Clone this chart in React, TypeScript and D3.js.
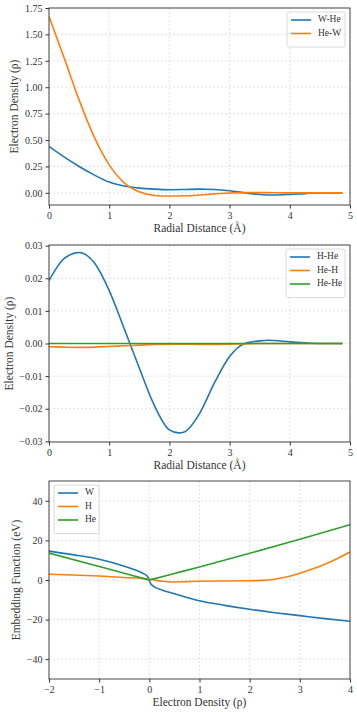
import React, { useEffect, useRef } from "react";
import * as d3 from "d3";

// panel 1: radial electron density for W-He / He-W
const r1 = [0, 0.25, 0.5, 0.75, 1, 1.25, 1.5, 1.75, 2, 2.25, 2.5, 2.75, 3, 3.25, 3.5, 3.75, 4, 4.25, 4.5, 4.875];
const wHe = [0.44, 0.34, 0.25, 0.17, 0.102, 0.065, 0.045, 0.035, 0.03, 0.032, 0.035, 0.032, 0.02, 0.0, -0.015, -0.02, -0.015, -0.007, 0.0, 0.0];
const heW = [1.67, 1.28, 0.88, 0.53, 0.265, 0.095, 0.01, -0.025, -0.03, -0.028, -0.02, -0.01, -0.002, 0.002, 0.002, 0.001, 0.0, 0.0, 0.0, 0.0];

// panel 2: H-He, He-H, He-He
const r2 = [0, 0.25, 0.5, 0.75, 1, 1.25, 1.5, 1.75, 2, 2.15, 2.25, 2.5, 2.75, 3, 3.25, 3.5, 3.65, 3.75, 4, 4.25, 4.5, 4.875];
const hHe = [0.0193, 0.026, 0.0279, 0.0248, 0.0162, 0.0045, -0.0075, -0.0190, -0.0265, -0.0274, -0.0271, -0.0215, -0.0120, -0.0040, 0.0, 0.0008, 0.001, 0.0009, 0.0005, 0.0002, 0.0, 0.0];
const heH = [-0.001, -0.0011, -0.0012, -0.0011, -0.0009, -0.0007, -0.0005, -0.0003, -0.0002, -0.0002, -0.0002, -0.0003, -0.0003, -0.0002, -0.0001, 0.0, 0.0, 0.0, 0.0, 0.0, 0.0, 0.0];
const heHe = r2.map(() => 0);

// panel 3: embedding functions
const rhoW = [-2, -1.5, -1, -0.5, -0.25, -0.1, -0.03, 0, 0.02, 0.1, 0.25, 0.5, 0.75, 1, 1.5, 2, 2.5, 3, 3.5, 4];
const fW = [14.6, 12.7, 10.5, 7.0, 4.8, 3.0, 1.6, 0, -1.6, -3.5, -5.0, -6.9, -8.8, -10.5, -12.8, -14.8, -16.5, -18.0, -19.5, -20.8];
const rhoH = [-2, -1.5, -1, -0.5, 0, 0.25, 0.5, 0.75, 1, 1.5, 2, 2.25, 2.5, 2.75, 3, 3.25, 3.5, 3.75, 4];
const fH = [2.9, 2.5, 2.0, 1.3, 0.4, -0.6, -1.0, -0.8, -0.6, -0.5, -0.4, -0.2, 0.4, 1.6, 3.4, 5.5, 8.0, 10.9, 14.1];
const rhoHe = [-2, -1, -0.5, -0.03, 0, 0.03, 0.5, 1, 2, 3, 4];
const fHe = [13.6, 6.8, 3.4, 0.2, 0, 0.2, 3.3, 6.6, 13.5, 20.6, 27.9];

const colors = ["#1f77b4", "#ff7f0e", "#2ca02c"];
const font = "'Liberation Serif', 'DejaVu Serif', serif";

const panels = [
  {
    xDomain: [0, 5], yDomain: [-0.115, 1.75], top: 8, bottom: 205,
    xTicks: [0, 1, 2, 3, 4, 5], yTicks: d3.range(0, 1.76, 0.25), yFmt: d3.format(".2f"),
    xLabel: "Radial Distance (Å)", yLabel: "Electron Density (ρ)", yLabelX: 15,
    series: [{ name: "W-He", x: r1, y: wHe }, { name: "He-W", x: r1, y: heW }],
    legend: { x: 287, y: 12, w: 58 },
  },
  {
    xDomain: [0, 5], yDomain: [-0.0302, 0.0302], top: 245, bottom: 442,
    xTicks: [0, 1, 2, 3, 4, 5], yTicks: [-0.03, -0.02, -0.01, 0, 0.01, 0.02, 0.03], yFmt: d3.format(".2f"),
    xLabel: "Radial Distance (Å)", yLabel: "Electron Density (ρ)", yLabelX: 10,
    series: [{ name: "H-He", x: r2, y: hHe }, { name: "He-H", x: r2, y: heH }, { name: "He-He", x: r2, y: heHe }],
    legend: { x: 286, y: 249, w: 59 },
  },
  {
    xDomain: [-2, 4], yDomain: [-50, 50], top: 481, bottom: 679,
    xTicks: [-2, -1, 0, 1, 2, 3, 4], yTicks: [-40, -20, 0, 20, 40], yFmt: d3.format("d"),
    xLabel: "Electron Density (ρ)", yLabel: "Embedding Function (eV)", yLabelX: 17,
    series: [{ name: "W", x: rhoW, y: fW }, { name: "H", x: rhoH, y: fH }, { name: "He", x: rhoHe, y: fHe }],
    legend: { x: 54, y: 485, w: 45 },
  },
];

const App = () => {
  const svgRef = useRef<SVGSVGElement>(null);

  useEffect(() => {
    const svg = d3.select(svgRef.current);
    svg.selectAll("*").remove();
    const left = 49;
    const right = 350;

    panels.forEach((p) => {
      const x = d3.scaleLinear().domain(p.xDomain).range([left, right]);
      const y = d3.scaleLinear().domain(p.yDomain).range([p.bottom, p.top]);
      const g = svg.append("g");

      // grid
      g.selectAll(".gx").data(p.xTicks).join("line")
        .attr("x1", (d) => x(d)).attr("x2", (d) => x(d))
        .attr("y1", p.top).attr("y2", p.bottom)
        .attr("stroke", "#cccccc").attr("stroke-width", 0.6).attr("stroke-dasharray", "2,2");
      g.selectAll(".gy").data(p.yTicks).join("line")
        .attr("x1", left).attr("x2", right)
        .attr("y1", (d) => y(d)).attr("y2", (d) => y(d))
        .attr("stroke", "#cccccc").attr("stroke-width", 0.6).attr("stroke-dasharray", "2,2");

      // curves
      const clipId = `clip${p.top}`;
      svg.append("clipPath").attr("id", clipId).append("rect")
        .attr("x", left).attr("y", p.top).attr("width", right - left).attr("height", p.bottom - p.top);
      p.series.forEach((s, i) => {
        const line = d3.line<number>()
          .x((d, k) => x(s.x[k]))
          .y((d) => y(d))
          .curve(d3.curveMonotoneX);
        g.append("path").datum(s.y)
          .attr("clip-path", `url(#${clipId})`)
          .attr("d", line)
          .attr("fill", "none")
          .attr("stroke", colors[i])
          .attr("stroke-width", 1.6);
      });

      // axes
      const xAxis = g.append("g").attr("transform", `translate(0,${p.bottom})`)
        .call(d3.axisBottom(x).tickValues(p.xTicks).tickSize(3.5).tickPadding(3)
          .tickFormat((d) => d3.format("d")(d as number).replace("-", "−")));
      const yAxis = g.append("g").attr("transform", `translate(${left},0)`)
        .call(d3.axisLeft(y).tickValues(p.yTicks).tickSize(3.5).tickPadding(3)
          .tickFormat((d) => p.yFmt(d as number).replace("-", "−")));
      [xAxis, yAxis].forEach((a) => {
        a.select(".domain").remove();
        a.selectAll("line").attr("stroke", "#333");
        a.selectAll("text").attr("font-family", font).attr("font-size", 10).attr("fill", "#333");
      });

      // spines
      g.append("rect").attr("x", left).attr("y", p.top)
        .attr("width", right - left).attr("height", p.bottom - p.top)
        .attr("fill", "none").attr("stroke", "#333").attr("stroke-width", 0.9);

      // labels
      g.append("text").attr("x", (left + right) / 2).attr("y", p.bottom + 27)
        .attr("text-anchor", "middle").attr("font-family", font).attr("font-size", 11.5)
        .attr("fill", "#333").text(p.xLabel);
      g.append("text")
        .attr("transform", `translate(${p.yLabelX},${(p.top + p.bottom) / 2}) rotate(-90)`)
        .attr("text-anchor", "middle").attr("dominant-baseline", "middle")
        .attr("font-family", font).attr("font-size", 11.5).attr("fill", "#333").text(p.yLabel);

      // legend
      const lg = g.append("g").attr("transform", `translate(${p.legend.x},${p.legend.y})`);
      const n = p.series.length;
      lg.append("rect").attr("width", p.legend.w).attr("height", 8 + n * 13.5)
        .attr("rx", 2).attr("fill", "white").attr("fill-opacity", 0.8)
        .attr("stroke", "#d0d0d0").attr("stroke-width", 0.8);
      p.series.forEach((s, i) => {
        const yy = 8 + i * 13.5;
        lg.append("line").attr("x1", 4).attr("x2", 24).attr("y1", yy).attr("y2", yy)
          .attr("stroke", colors[i]).attr("stroke-width", 1.6);
        lg.append("text").attr("x", 31).attr("y", yy).attr("dominant-baseline", "middle")
          .attr("font-family", font).attr("font-size", 9.5).attr("fill", "#333").text(s.name);
      });
    });
  }, []);

  return (
    <div style={{ position: "absolute", left: 0, top: 0 }}>
      <svg ref={svgRef} width={357} height={712} style={{ display: "block", background: "white" }}></svg>
    </div>
  );
};

export default App;
